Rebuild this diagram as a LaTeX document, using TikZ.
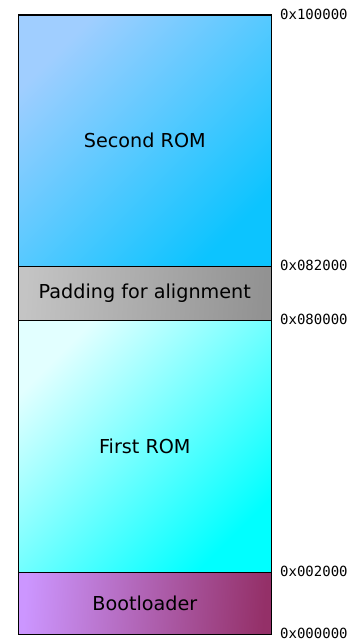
\documentclass[tikz,border=0pt]{standalone}
\usepackage{fontspec}
\setmainfont{DejaVu Sans}
\newfontfamily\addrfont{DejaVu Sans Mono}
\definecolor{srA}{RGB}{160,206,255}
\definecolor{srB}{RGB}{12,196,255}
\definecolor{padA}{RGB}{196,196,196}
\definecolor{padB}{RGB}{146,146,146}
\definecolor{frA}{RGB}{226,255,255}
\definecolor{frB}{RGB}{0,255,255}
\definecolor{blA}{RGB}{204,150,255}
\definecolor{blB}{RGB}{148,48,104}
\begin{document}
\begin{tikzpicture}[x=1bp,y=-1bp,
  region/.style={draw=black,line width=1.6bp,inner sep=0pt,minimum width=253bp,anchor=north west,
    font=\fontsize{19.2bp}{23bp}\selectfont},
  addr/.style={anchor=west,inner sep=0pt,font=\addrfont\fontsize{14bp}{16bp}\selectfont}]
\useasboundingbox (0,0) rectangle (354,641);
\node[region,minimum height=251bp,top color=srA,bottom color=srB,shading angle=45] (second) at (17.5,14.5) {Second ROM};
\node[region,minimum height=54bp,top color=padA,bottom color=padB,shading angle=86] (pad) at (17.5,265.5) {Padding for alignment};
\node[region,minimum height=252bp,top color=frA,bottom color=frB,shading angle=45] (first) at (17.5,319.5) {First ROM};
\node[region,minimum height=62bp,top color=blA,bottom color=blB,shading angle=86] (boot) at (17.5,571.5) {Bootloader};
\node[addr] (a1) at (280,14.5) {0x100000};
\node[addr] (a2) at (280,265.5) {0x082000};
\node[addr] (a3) at (280,319.5) {0x080000};
\node[addr] (a4) at (280,571.5) {0x002000};
\node[addr] (a5) at (280,633.5) {0x000000};
\end{tikzpicture}
\end{document}
